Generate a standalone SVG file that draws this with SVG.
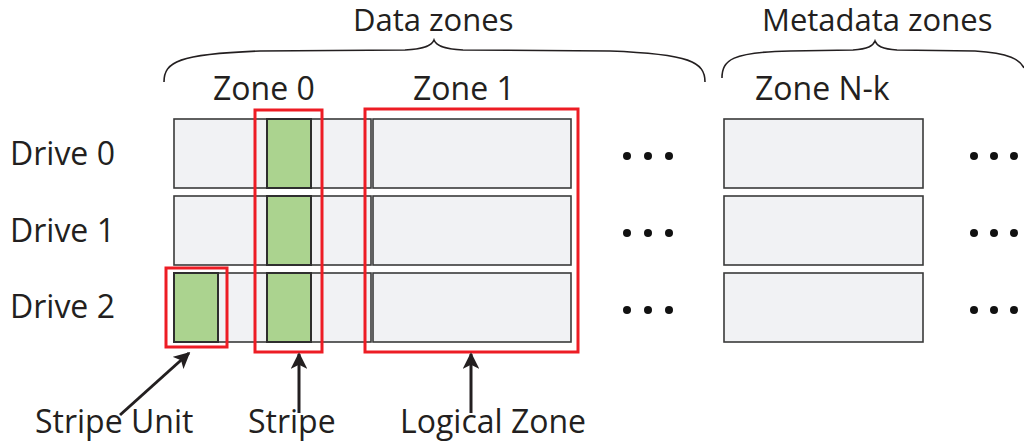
<svg xmlns="http://www.w3.org/2000/svg" width="1024" height="442" viewBox="0 0 1024 442">
<defs>
<style>
.t{font-family:"Open Sans","Noto Sans",sans-serif;font-size:32px;fill:#231f20}
.h{font-size:31px}
.zone{fill:#f1f2f4;stroke:#3a3a3a;stroke-width:1.6}
.unit{fill:#abd38f;stroke:#2e2e2e;stroke-width:2}
.sel{fill:none;stroke:#ed1c24;stroke-width:3}
.brace{fill:none;stroke:#231f20;stroke-width:1.6}
.dot{fill:#111}
.arr{fill:none;stroke:#231f20;stroke-width:3;marker-end:url(#ah)}
</style>
<marker id="ah" viewBox="0 0 10 10" refX="9" refY="5" markerWidth="5.5" markerHeight="5.5" orient="auto" markerUnits="strokeWidth">
<path d="M0,0 L10,5 L0,10 L2.5,5 Z" fill="#231f20"/>
</marker>
</defs>
<rect width="1024" height="442" fill="#fff"/>

<g id="braces">
<path class="brace" d="M164,82 C164,62 178,54 260,51 L405,50 C426,49 432,45 434,40 C436,45 442,49 463,50 L610,51 C690,54 705,62 705,82"/>
<path class="brace" d="M722,78 C722,60 732,52 790,51 L853,50 C868,49 873,46 875,41 C877,46 882,49 897,50 L975,51 C1010,53 1020,60 1024,68"/>
</g>

<g id="headers">
<text class="t h" x="353" y="31">Data zones</text>
<text class="t h" x="762" y="31">Metadata zones</text>
<text class="t" x="213" y="100">Zone 0</text>
<text class="t" x="413" y="100">Zone 1</text>
<text class="t" x="755" y="100">Zone N-k</text>
</g>

<g id="drive0">
<text class="t" x="10" y="165">Drive 0</text>
<rect class="zone" x="174" y="119" width="197" height="69"/>
<rect class="zone" x="373" y="119" width="198" height="69"/>
<rect class="unit" x="267" y="119" width="44" height="69"/>
<rect class="zone" x="724" y="119" width="199" height="69"/>
</g>
<g id="drive1">
<text class="t" x="10" y="242">Drive 1</text>
<rect class="zone" x="174" y="196" width="197" height="69"/>
<rect class="zone" x="373" y="196" width="198" height="69"/>
<rect class="unit" x="267" y="196" width="44" height="69"/>
<rect class="zone" x="724" y="196" width="199" height="69"/>
</g>
<g id="drive2">
<text class="t" x="10" y="318">Drive 2</text>
<rect class="zone" x="174" y="273" width="197" height="69"/>
<rect class="zone" x="373" y="273" width="198" height="69"/>
<rect class="unit" x="174" y="273" width="44" height="69"/>
<rect class="unit" x="267" y="273" width="44" height="69"/>
<rect class="zone" x="724" y="273" width="199" height="69"/>
</g>

<g id="ellipses">
<circle class="dot" cx="627" cy="156" r="4"/><circle class="dot" cx="648" cy="156" r="4"/><circle class="dot" cx="669" cy="156" r="4"/>
<circle class="dot" cx="627" cy="233" r="4"/><circle class="dot" cx="648" cy="233" r="4"/><circle class="dot" cx="669" cy="233" r="4"/>
<circle class="dot" cx="627" cy="310" r="4"/><circle class="dot" cx="648" cy="310" r="4"/><circle class="dot" cx="669" cy="310" r="4"/>
<circle class="dot" cx="974" cy="156" r="4"/><circle class="dot" cx="994" cy="156" r="4"/><circle class="dot" cx="1014" cy="156" r="4"/>
<circle class="dot" cx="974" cy="233" r="4"/><circle class="dot" cx="994" cy="233" r="4"/><circle class="dot" cx="1014" cy="233" r="4"/>
<circle class="dot" cx="974" cy="310" r="4"/><circle class="dot" cx="994" cy="310" r="4"/><circle class="dot" cx="1014" cy="310" r="4"/>
</g>

<g id="stripe-unit">
<rect class="sel" x="166" y="268" width="61" height="79"/>
<text class="t" x="35" y="433">Stripe Unit</text>
</g>
<g id="stripe">
<rect class="sel" x="255" y="110" width="67" height="242"/>
<text class="t" x="248" y="433">Stripe</text>
</g>
<g id="logical-zone">
<rect class="sel" x="365" y="109" width="213" height="243"/>
<text class="t" x="400" y="433">Logical Zone</text>
</g>

<g id="connectors">
<line class="arr" x1="120" y1="415" x2="189" y2="353"/>
<line class="arr" x1="299" y1="413" x2="299" y2="354"/>
<line class="arr" x1="471" y1="413" x2="471" y2="354"/>
</g>
</svg>
